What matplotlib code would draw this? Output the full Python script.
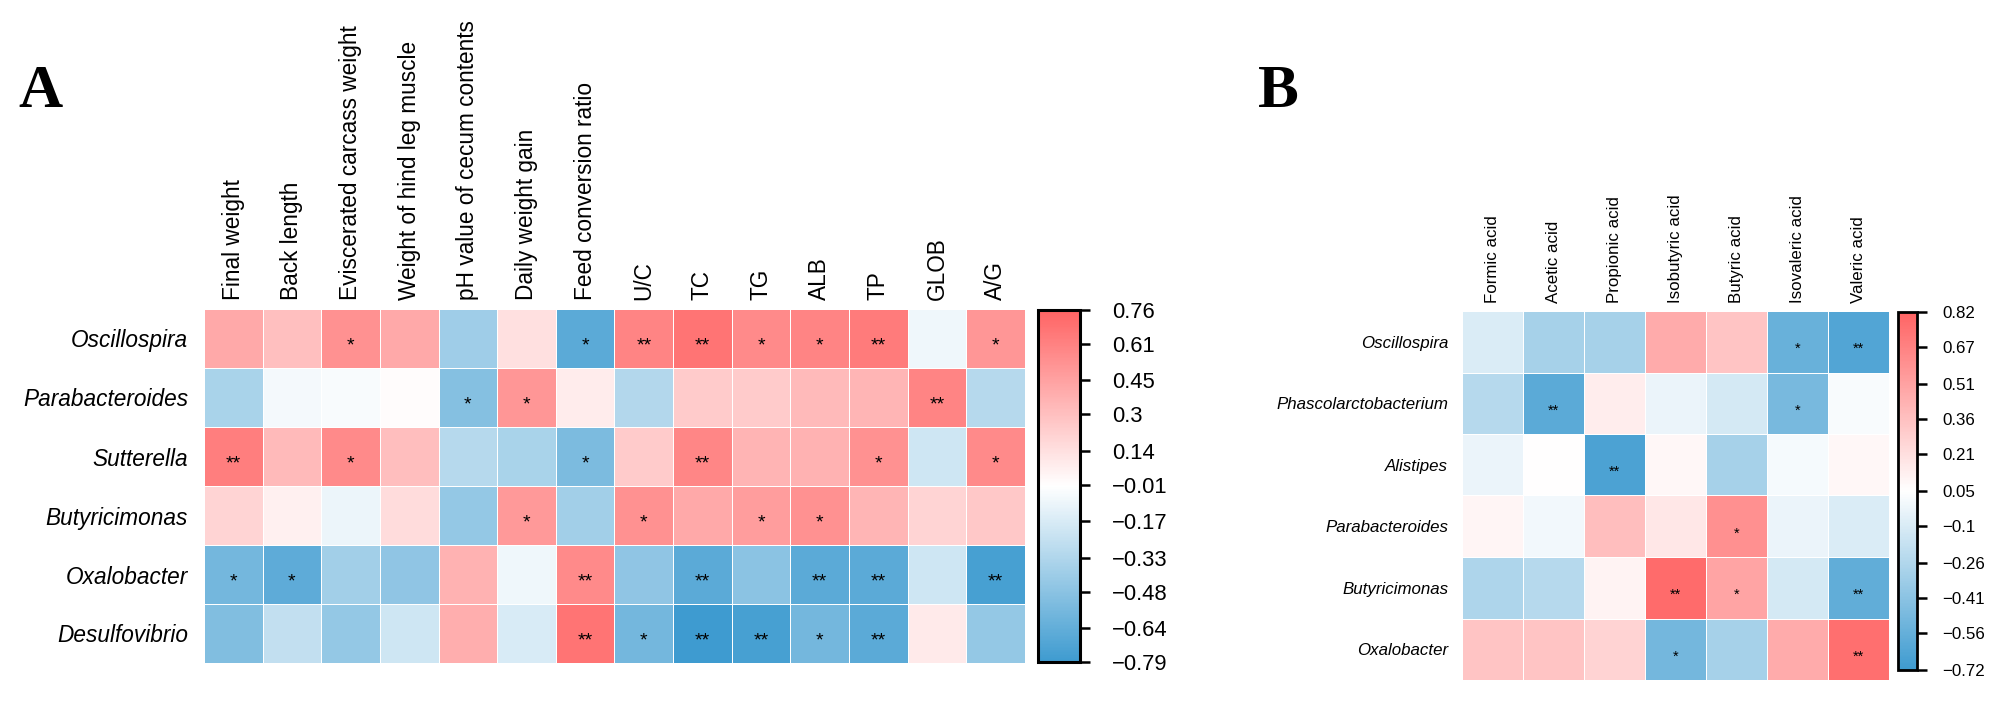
import numpy as np
import matplotlib
matplotlib.use("Agg")
import matplotlib.pyplot as plt
from matplotlib.colors import LinearSegmentedColormap, Normalize

plt.rcParams['font.family'] = ['Liberation Sans', 'DejaVu Sans']

# ---------------- data: panel A ----------------
rows_a = ["Oscillospira", "Parabacteroides", "Sutterella", "Butyricimonas",
          "Oxalobacter", "Desulfovibrio"]
cols_a = ["Final weight", "Back length", "Eviscerated carcass weight",
          "Weight of hind leg muscle", "pH value of cecum contents",
          "Daily weight gain", "Feed conversion ratio", "U/C", "TC", "TG",
          "ALB", "TP", "GLOB", "A/G"]
r_a = [
    [0.41, 0.30, 0.53, 0.41, -0.40, 0.14, -0.67, 0.60, 0.68, 0.57, 0.60, 0.64, -0.08, 0.51],
    [-0.36, -0.06, -0.04, 0.00, -0.50, 0.51, 0.08, -0.32, 0.24, 0.24, 0.33, 0.35, 0.60, -0.31],
    [0.63, 0.33, 0.57, 0.31, -0.31, -0.36, -0.54, 0.24, 0.59, 0.36, 0.37, 0.53, -0.21, 0.57],
    [0.20, 0.06, -0.09, 0.16, -0.44, 0.49, -0.39, 0.53, 0.41, 0.47, 0.53, 0.35, 0.20, 0.26],
    [-0.57, -0.66, -0.39, -0.46, 0.37, -0.08, 0.57, -0.46, -0.67, -0.48, -0.67, -0.67, -0.21, -0.75],
    [-0.52, -0.26, -0.44, -0.21, 0.39, -0.17, 0.68, -0.57, -0.79, -0.75, -0.57, -0.67, 0.09, -0.44],
]
sig_a = [
    ["", "", "*", "", "", "", "*", "**", "**", "*", "*", "**", "", "*"],
    ["", "", "", "", "*", "*", "", "", "", "", "", "", "**", ""],
    ["**", "", "*", "", "", "", "*", "", "**", "", "", "*", "", "*"],
    ["", "", "", "", "", "*", "", "*", "", "*", "*", "", "", ""],
    ["*", "*", "", "", "", "", "**", "", "**", "", "**", "**", "", "**"],
    ["", "", "", "", "", "", "**", "*", "**", "**", "*", "**", "", ""],
]
vmin_a, vmax_a = -0.79, 0.76
cbar_labels_a = ["0.76", "0.61", "0.45", "0.3", "0.14", "\u22120.01", "\u22120.17",
                 "\u22120.33", "\u22120.48", "\u22120.64", "\u22120.79"]

# ---------------- data: panel B ----------------
rows_b = ["Oscillospira", "Phascolarctobacterium", "Alistipes", "Parabacteroides",
          "Butyricimonas", "Oxalobacter"]
cols_b = ["Formic acid", "Acetic acid", "Propionic acid", "Isobutyric acid",
          "Butyric acid", "Isovaleric acid", "Valeric acid"]
r_b = [
    [-0.10, -0.30, -0.30, 0.47, 0.34, -0.55, -0.64],
    [-0.24, -0.60, 0.14, -0.03, -0.12, -0.49, 0.02],
    [-0.03, 0.05, -0.66, 0.09, -0.30, 0.01, 0.09],
    [0.10, 0.00, 0.37, 0.17, 0.60, -0.03, -0.10],
    [-0.27, -0.24, 0.11, 0.78, 0.50, -0.12, -0.58],
    [0.34, 0.34, 0.27, -0.50, -0.30, 0.47, 0.76],
]
sig_b = [
    ["", "", "", "", "", "*", "**"],
    ["", "**", "", "", "", "*", ""],
    ["", "", "**", "", "", "", ""],
    ["", "", "", "", "*", "", ""],
    ["", "", "", "**", "*", "", "**"],
    ["", "", "", "*", "", "", "**"],
]
vmin_b, vmax_b = -0.72, 0.82
cbar_labels_b = ["0.82", "0.67", "0.51", "0.36", "0.21", "0.05", "\u22120.1",
                 "\u22120.26", "\u22120.41", "\u22120.56", "\u22120.72"]

cmap = LinearSegmentedColormap.from_list("bwr_soft", ["#3E9BD0", "#FFFFFF", "#FF6464"])

W, H = 2008, 710
fig = plt.figure(figsize=(W / 100, H / 100), dpi=100)


def px_axes(x0, y0, x1, y1):
    # pixel box (from top-left) -> figure axes
    return fig.add_axes([x0 / W, 1 - y1 / H, (x1 - x0) / W, (y1 - y0) / H])


def draw_heat(ax, data, sig, rows, cols, vmin, vmax, fs_lab, fs_star, row_pad, col_pad):
    data = np.array(data)
    norm = Normalize(vmin, vmax)
    m = ax.pcolormesh(data, cmap=cmap, norm=norm, edgecolors="white", linewidth=0.5)
    ax.set_xlim(0, data.shape[1])
    ax.set_ylim(data.shape[0], 0)
    ax.xaxis.tick_top()
    ax.set_xticks(np.arange(data.shape[1]) + 0.5)
    ax.set_xticklabels(cols, rotation=90, fontsize=fs_lab[0])
    ax.set_yticks(np.arange(data.shape[0]) + 0.5)
    ax.set_yticklabels(rows, fontsize=fs_lab[1], style="italic")
    ax.tick_params(length=0)
    ax.tick_params(axis="x", pad=col_pad)
    ax.tick_params(axis="y", pad=row_pad)
    for s in ax.spines.values():
        s.set_visible(False)
    for i in range(data.shape[0]):
        for j in range(data.shape[1]):
            if sig[i][j]:
                ax.text(j + 0.5, i + 0.62, sig[i][j], ha="center", va="center",
                        fontsize=fs_star, color="black")
    return m


def draw_cbar(cax, m, labels, fs, pad, lw):
    cb = fig.colorbar(m, cax=cax)
    vals = [float(s.replace("\u2212", "-")) for s in labels]
    cb.set_ticks(vals)
    cb.set_ticklabels(labels)
    cb.ax.tick_params(labelsize=fs, length=7, width=1.8, pad=pad)
    cb.outline.set_linewidth(lw)
    cb.outline.set_edgecolor("black")


# panel A
ax_a = px_axes(204, 309, 1025, 663)
m_a = draw_heat(ax_a, r_a, sig_a, rows_a, cols_a, vmin_a, vmax_a,
                (16.3, 16.3), 14, 11.5, 6.5)
cax_a = px_axes(1038, 310, 1080, 662)
draw_cbar(cax_a, m_a, cbar_labels_a, 15.8, 16, 2.2)

# panel B
ax_b = px_axes(1462, 311, 1889, 680)
m_b = draw_heat(ax_b, r_b, sig_b, rows_b, cols_b, vmin_b, vmax_b,
                (12.2, 12.2), 10.5, 10, 6)
cax_b = px_axes(1898, 312, 1917, 670)
draw_cbar(cax_b, m_b, cbar_labels_b, 12.2, 11, 2.0)

# panel letters
fig.text(18 / W, 1 - 107 / H, "A", fontsize=44, fontweight="bold",
         family="Liberation Serif", va="baseline", ha="left")
fig.text(1258 / W, 1 - 107 / H, "B", fontsize=44, fontweight="bold",
         family="Liberation Serif", va="baseline", ha="left")

fig.savefig("out.png", dpi=100)
